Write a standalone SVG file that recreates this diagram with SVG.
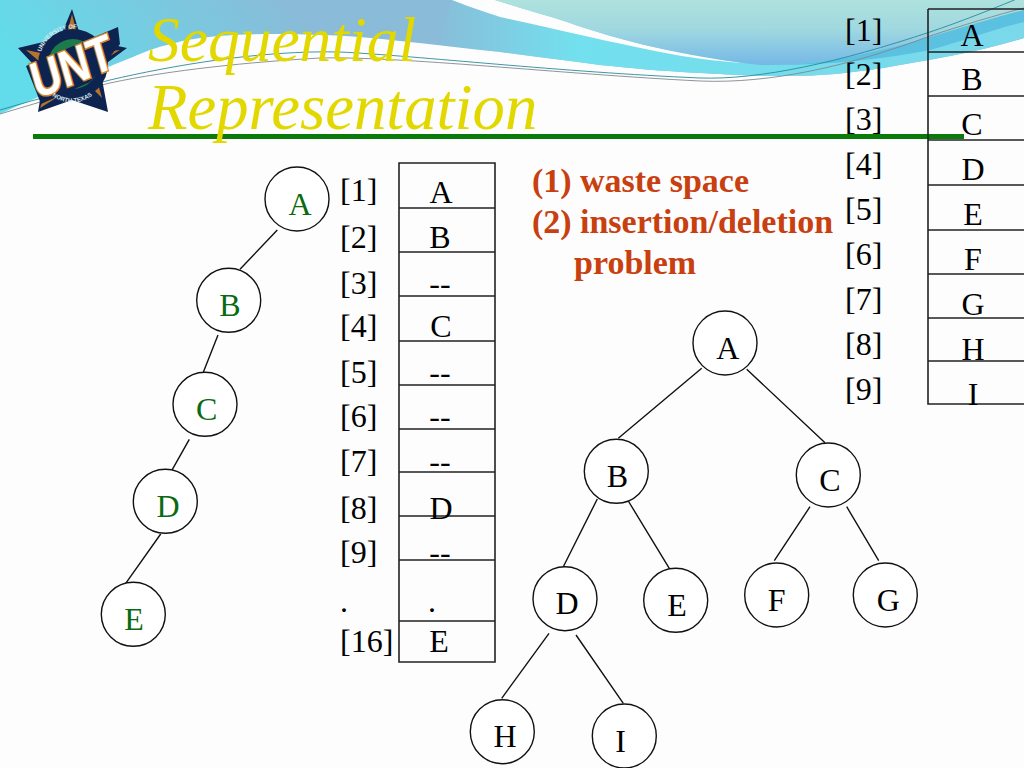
<svg xmlns="http://www.w3.org/2000/svg" width="1024" height="768" viewBox="0 0 1024 768">
<style>
text{font-family:"Liberation Serif","Times New Roman",serif;fill:#000}
.n{font-size:32px}
.m{text-anchor:middle}
.g{fill:#0a6a12}
.t{font-style:italic;fill:#e2d800}
.r{font-size:34px;font-weight:bold;fill:#c8400f}
.c{fill:#fff;stroke:#111;stroke-width:1.4}
.l{stroke:#111;stroke-width:1.4;fill:none}
.tb{stroke:#222;stroke-width:1.6;fill:none}
.lg{font-family:"Liberation Sans",sans-serif;font-weight:bold}
</style>
<defs>
<linearGradient id="bg" gradientUnits="userSpaceOnUse" x1="60" y1="120" x2="260" y2="-40"><stop offset="0" stop-color="#62dcea"/><stop offset="1" stop-color="#8abbd8"/></linearGradient>
<linearGradient id="tl" x1="0" y1="0" x2="0" y2="1"><stop offset="0" stop-color="#aee2de"/><stop offset="0.45" stop-color="#a0d8e0"/><stop offset="1" stop-color="#74b8e6"/></linearGradient>
<linearGradient id="cy" gradientUnits="userSpaceOnUse" x1="430" y1="0" x2="1024" y2="0"><stop offset="0" stop-color="#72e0ee" stop-opacity="0"/><stop offset="0.25" stop-color="#72e0ee"/><stop offset="1" stop-color="#7ad8ea"/></linearGradient>
</defs>
<rect width="1024" height="768" fill="#fdfdfd"/>
<path id="bg-sweep" fill="url(#bg)" d="M0 0H1024V38C980 52 930 60 883 68C850 73 820 76 790 76C750 76 720 74 700 73C660 71 630 68 600 65C570 61 530 56 500 52C470 49 430 44 400 41C340 34 280 33 233 35C200 37 185 40 167 45C150 49 140 54 133 57C90 74 40 96 0 114Z"/>
<path id="bg-cyan" fill="url(#cy)" d="M452 0H1024V38C980 52 930 60 883 68C850 73 820 76 790 76C750 76 720 74 700 73C660 71 630 68 600 65C570 61 530 56 500 52C480 50 460 47 440 45Z"/>
<path id="bg-top" fill="#fdfdfd" d="M495 0C520 8 545 15 567 22C590 30 610 36 633 42C655 48 680 52 700 55C715 59 730 61 743 63C715 61 690 58 660 52C610 42 550 28 500 17C485 12 470 7 452 0Z"/>
<path id="bg-teal" fill="url(#tl)" d="M495 0C520 8 545 15 567 22C590 30 610 36 633 42C660 49 700 58 760 65C790 65 815 63 833 60C870 53 900 46 930 37C960 28 1000 16 1024 10V0Z"/>
<path id="bg-dark" fill="#5cc0e0" d="M760 65C790 65 815 63 833 60C870 53 900 46 930 37C960 28 1000 16 1024 10V22C990 30 960 42 930 50C880 60 820 66 760 65Z"/>
<g id="swoosh-lines" fill="none" stroke-width="0.9">
<path stroke="#2a8a9a" d="M0 110C40 98 80 88 110 80C170 66 260 50 340 52C420 56 560 72 700 78C760 80 840 62 930 32C960 22 1000 6 1024 -4"/>
<path stroke="#808890" d="M0 114C40 102 80 90 110 83C170 70 250 62 320 58C400 56 560 74 700 81C770 84 850 66 930 36C960 26 1000 14 1024 8"/>
</g>
<g id="logo">
<polygon points="72,9 81,38 127,48 100,68 108,112 72,100 38,112 44,76 18,48 60,38" fill="#0e2450"/>
<polygon points="72,14 78,38 66,38" fill="#b8742a"/>
<polygon points="120,50 100,62 102,52" fill="#b8742a"/>
<polygon points="26,50 46,54 40,62" fill="#b8742a"/>
<polygon points="40,108 46,92 56,98" fill="#b8742a"/>
<polygon points="102,98 92,88 98,84" fill="#b8742a"/>
<circle cx="73" cy="64" r="35" fill="#0e2450"/>
<circle cx="73" cy="64" r="25" fill="#1c7a4c"/>
<polygon points="26,66 118,27 120,44 90,82 41,104" fill="#0e2450"/>
<text class="lg" font-size="50" transform="translate(37 99) rotate(-22) skewX(-6)" textLength="86" lengthAdjust="spacingAndGlyphs" style="fill:#fff;stroke:#d8862a;stroke-width:3;paint-order:stroke">UNT</text>
<path id="arc1" d="M41 52A34 34 0 0 1 86 31" fill="none"/>
<path id="arc2" d="M52 96A34 34 0 0 0 102 84" fill="none"/>
<text class="lg" font-size="6" style="fill:#dfe8ee"><textPath href="#arc1">UNIVERSITY OF</textPath></text>
<text class="lg" font-size="6" style="fill:#dfe8ee"><textPath href="#arc2">NORTH TEXAS</textPath></text>
</g>
<rect id="title-rule" x="33" y="134" width="931" height="5" fill="#0a7a0a"/>
<g id="title">
<text class="t" font-size="63.5" x="148" y="61">Sequential</text>
<text class="t" font-size="64.7" x="148" y="129">Representation</text>
</g>
<g id="connectors" class="l">
<path d="M277.3 230L240 269.3M218 335L203.3 372.3M189.3 439.3L171.7 470.7M160.7 534L125.7 583.3"/>
<path d="M701.7 368.3L618.3 438.3M746.7 369.3L825 442.7M597.3 499L563.3 566.7M628.3 501L669.3 568.3M810 506.7L774.3 560.7M846.7 506.7L878.7 560.7M549 633.3L501.7 698.3M576 635L623.3 703.3"/>
</g>
<g id="t1-A"><circle class="c" cx="297" cy="199" r="32"/><text class="n m g" x="300" y="215">A</text></g>
<g id="t1-B"><circle class="c" cx="228.7" cy="300.3" r="32"/><text class="n m g" x="230" y="316">B</text></g>
<g id="t1-C"><circle class="c" cx="205" cy="404.3" r="32"/><text class="n m g" x="206.7" y="420">C</text></g>
<g id="t1-D"><circle class="c" cx="165.3" cy="501.3" r="32"/><text class="n m g" x="168" y="517">D</text></g>
<g id="t1-E"><circle class="c" cx="133.3" cy="614.3" r="32"/><text class="n m g" x="134" y="630">E</text></g>
<g id="t2-A"><circle class="c" cx="725" cy="343" r="32"/><text class="n m" x="727.7" y="359">A</text></g>
<g id="t2-B"><circle class="c" cx="616.3" cy="471.3" r="32"/><text class="n m" x="617.3" y="487">B</text></g>
<g id="t2-C"><circle class="c" cx="828.3" cy="475" r="32"/><text class="n m" x="830" y="491">C</text></g>
<g id="t2-D"><circle class="c" cx="565" cy="598.7" r="32"/><text class="n m" x="567" y="614">D</text></g>
<g id="t2-E"><circle class="c" cx="675.7" cy="600.3" r="32"/><text class="n m" x="677" y="616">E</text></g>
<g id="t2-F"><circle class="c" cx="776.7" cy="595" r="32"/><text class="n m" x="776.7" y="610.7">F</text></g>
<g id="t2-G"><circle class="c" cx="885.3" cy="595" r="32"/><text class="n m" x="888.3" y="610.7">G</text></g>
<g id="t2-H"><circle class="c" cx="502.3" cy="731.7" r="32"/><text class="n m" x="505" y="746.7">H</text></g>
<g id="t2-I"><circle class="c" cx="624.3" cy="736" r="32"/><text class="n m" x="620.7" y="751.7">I</text></g>
<g id="table1">
<path class="tb" d="M399 163H495V662H399ZM399 208H495M399 252H495M399 296H495M399 341H495M399 385H495M399 429H495M399 472H495M399 516H495M399 560H495M399 621H495"/>
<g class="n">
<text x="340" y="201">[1]</text><text x="340" y="248">[2]</text><text x="340" y="294">[3]</text><text x="340" y="337">[4]</text><text x="340" y="383">[5]</text><text x="340" y="427">[6]</text><text x="340" y="472">[7]</text><text x="340" y="519">[8]</text><text x="340" y="563">[9]</text><text x="340" y="612">.</text><text x="340" y="652">[16]</text>
<text x="441" y="203" class="m">A</text><text x="440" y="248" class="m">B</text><text x="440" y="294" class="m">--</text><text x="441" y="337" class="m">C</text><text x="440" y="383" class="m">--</text><text x="440" y="427" class="m">--</text><text x="440" y="472" class="m">--</text><text x="441" y="519" class="m">D</text><text x="440" y="563" class="m">--</text><text x="432" y="612" class="m">.</text><text x="439" y="652" class="m">E</text>
</g>
</g>
<g id="table2">
<path class="tb" d="M928 9H1024M928 9V404H1024M928 52H1024M928 96H1024M928 140H1024M928 185H1024M928 230H1024M928 274H1024M928 318H1024M928 361H1024"/>
<g class="n">
<text x="845" y="41">[1]</text><text x="845" y="85">[2]</text><text x="845" y="130">[3]</text><text x="845" y="175">[4]</text><text x="845" y="220">[5]</text><text x="845" y="265">[6]</text><text x="845" y="310">[7]</text><text x="845" y="355">[8]</text><text x="845" y="400">[9]</text>
<text x="972" y="46" class="m">A</text><text x="972" y="90" class="m">B</text><text x="972" y="135" class="m">C</text><text x="973" y="180" class="m">D</text><text x="973" y="225" class="m">E</text><text x="973" y="270" class="m">F</text><text x="973" y="315" class="m">G</text><text x="973" y="360" class="m">H</text><text x="973" y="405" class="m">I</text>
</g>
</g>
<g id="note">
<text class="r" x="532" y="192">(1) <tspan x="580">waste space</tspan></text>
<text class="r" x="532" y="233">(2) <tspan x="580">insertion/deletion</tspan></text>
<text class="r" x="574" y="274">problem</text>
</g>
</svg>
